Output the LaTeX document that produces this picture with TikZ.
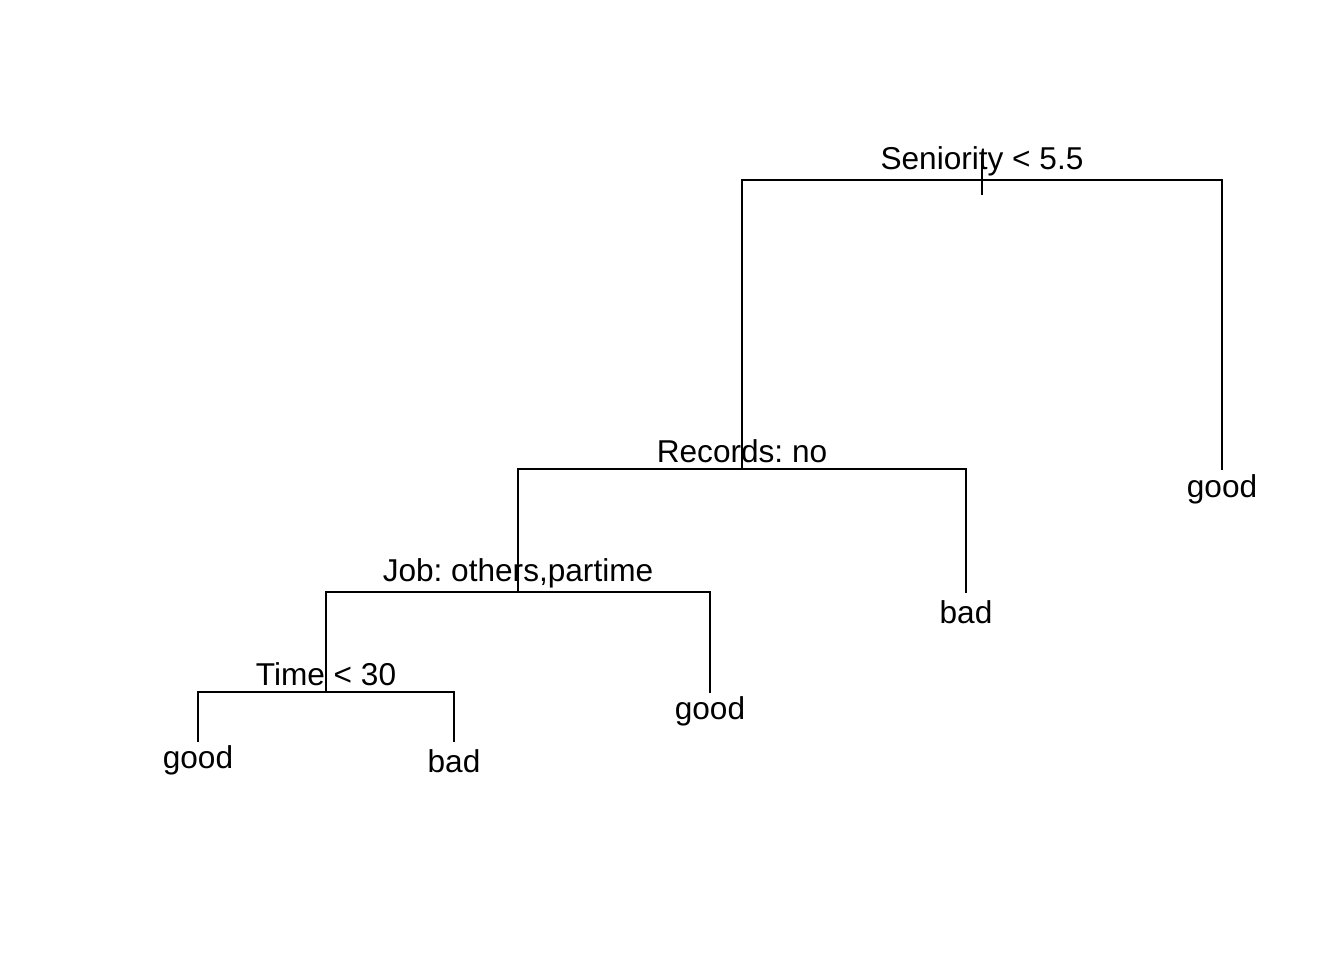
\documentclass[tikz,border=0pt]{standalone}
\usepackage{fontspec}
\setmainfont{Liberation Sans}
\frenchspacing
\begin{document}
\begin{tikzpicture}[x=1pt,y=-1pt,line width=2pt,
	lbl/.style={anchor=base,inner sep=0pt,font=\fontsize{31.6}{36}\selectfont}]
	\useasboundingbox (0,0) rectangle (1344,960);

	% Split points
	\coordinate (sen) at (982,180);
	\coordinate (rec) at (742,469);
	\coordinate (job) at (518,592);
	\coordinate (tim) at (326,692);

	% Leaf ends
	\coordinate (l1) at (198,742);
	\coordinate (l2) at (454,742);
	\coordinate (l3) at (710,693);
	\coordinate (l4) at (966,593);
	\coordinate (l5) at (1222,470);

	% Root tick
	\draw (982,156) -- (982,195);

	% Branches
	\draw (rec) |- (sen) -| (l5);
	\draw (job) |- (rec) -| (l4);
	\draw (tim) |- (job) -| (l3);
	\draw (l1) |- (tim) -| (l2);

	% Split labels
	\node[lbl] (tsen) at (982,169.5) {Seniority < 5.5};
	\node[lbl] (trec) at (742,462.5) {Records: no};
	\node[lbl] (tjob) at (518,581.5) {Job: others,partime};
	\node[lbl] (ttim) at (326,685.5) {Time < 30};

	% Leaf labels
	\node[lbl] (g1) at (198,768.5) {good};
	\node[lbl] (b2) at (454,772.5) {bad};
	\node[lbl] (g3) at (710,719.5) {good};
	\node[lbl] (b4) at (966,623.5) {bad};
	\node[lbl] (g5) at (1222,497.5) {good};
\end{tikzpicture}
\end{document}
